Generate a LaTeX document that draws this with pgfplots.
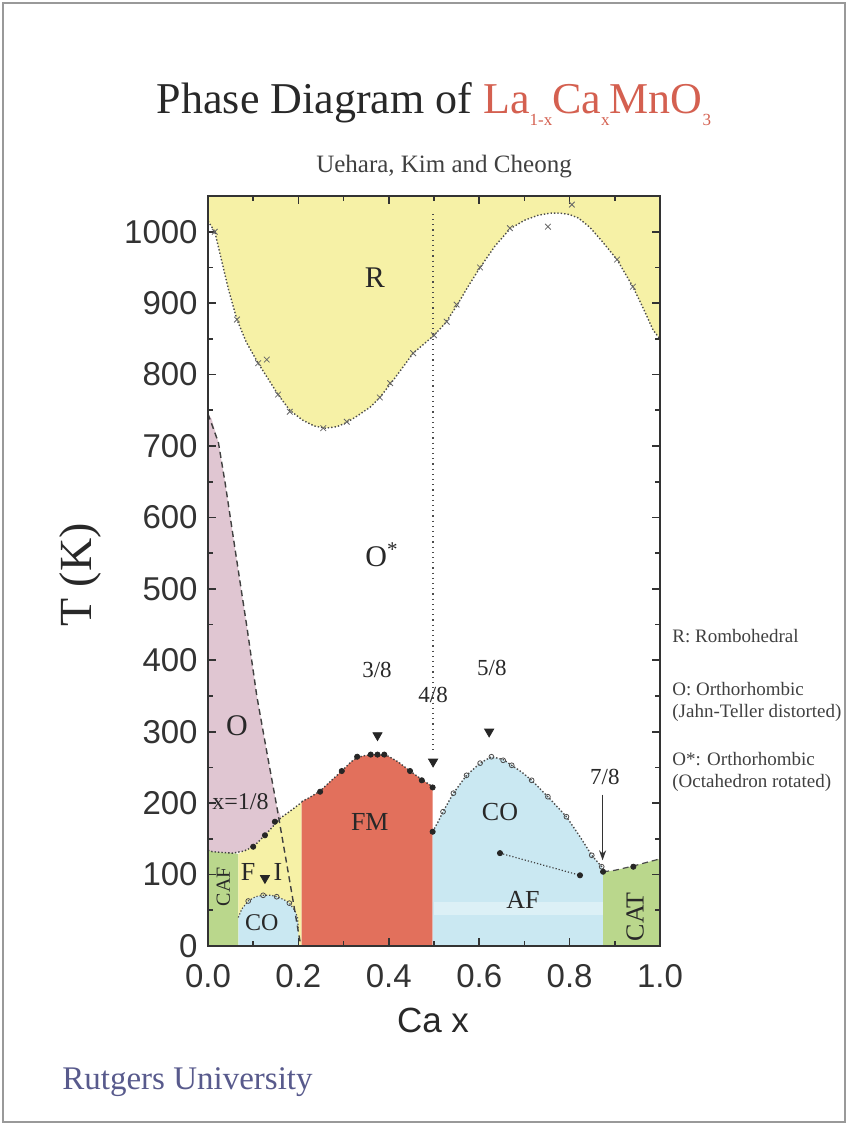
\documentclass[border=0pt]{standalone}
\usepackage{fontspec}
\setmainfont{Liberation Serif}
\setsansfont{Liberation Sans}
\usepackage{pgfplots}
\pgfplotsset{compat=1.18}
\usetikzlibrary{arrows.meta}

\definecolor{ryel}{RGB}{246,241,166}
\definecolor{opink}{RGB}{224,198,210}
\definecolor{fmred}{RGB}{226,112,92}
\definecolor{coblue}{RGB}{202,232,242}
\definecolor{cgreen}{RGB}{186,215,140}
\definecolor{titlered}{RGB}{212,96,80}
\definecolor{inkgray}{RGB}{40,40,40}
\definecolor{rutgers}{RGB}{88,90,140}

\newcommand{\sub}[1]{\raisebox{-6pt}{\fontsize{8.5}{9}\selectfont #1}}

\begin{document}
\begin{tikzpicture}
\useasboundingbox (0,0) rectangle (424pt,-562.5pt);
\draw[black!40, line width=0.6pt] (1.5pt,-1.5pt) rectangle (422.5pt,-561pt);

% title block
\node[anchor=base, inner sep=0pt, text=inkgray, font=\fontsize{22}{26}\selectfont]
  at (217pt,-56.5pt) {Phase Diagram of \textcolor{titlered}{La\sub{1-x}Ca\sub{x}MnO\sub{3}}};
\node[anchor=base, inner sep=0pt, text=black!75, font=\fontsize{12.5}{14}\selectfont]
  at (222pt,-86pt) {Uehara, Kim and Cheong};

\begin{axis}[
  at={(104pt,-473pt)}, anchor=south west,
  scale only axis, width=226pt, height=375pt,
  xmin=0, xmax=1, ymin=0, ymax=1050,
  axis on top,
  axis line style={draw=black!80, line width=1pt},
  tick align=inside,
  major tick length=4pt, minor tick length=2.5pt,
  tick style={draw=black!80, line width=0.8pt},
  xtick={0,0.2,...,1.0}, minor xtick={0.1,0.3,0.5,0.7,0.9},
  ytick={0,100,...,1000}, minor ytick={50,150,...,1050},
  xticklabel style={inner sep=1pt, yshift=-8pt, /pgf/number format/fixed, /pgf/number format/fixed zerofill, /pgf/number format/precision=1},
  yticklabel style={inner sep=1pt, xshift=-4pt},
  /pgf/number format/set thousands separator={},
  /pgf/number format/assume math mode=true,
  tick label style={font=\fontsize{16.5}{18}\sffamily, text=black!80},
  clip=true,
]
% phase regions
\addplot[draw=none, fill=ryel] coordinates {(0,1060)(0,1015)(0.015,1000)(0.03,960)(0.045,920)(0.064,877)(0.085,845)(0.111,816)(0.135,792)(0.155,772)(0.181,750)(0.21,736)(0.235,728)(0.26,725)(0.285,727)(0.307,733)(0.33,742)(0.36,755)(0.38,768)(0.40,784)(0.425,805)(0.454,830)(0.478,843)(0.50,855)(0.525,872)(0.55,896)(0.575,923)(0.60,948)(0.635,980)(0.668,1004)(0.70,1016)(0.73,1023)(0.757,1026)(0.78,1026)(0.80,1024)(0.82,1019)(0.845,1006)(0.87,988)(0.905,961)(0.94,923)(0.965,890)(0.985,862)(1.0,850)(1,1060)} -- cycle;
\addplot[draw=none, fill=opink] coordinates {(0,745)(0.008,738)(0.023,705)(0.038,648)(0.06,555)(0.086,447)(0.108,350)(0.13,272)(0.152,196)(0.162,180)(0.15,172)(0.126,155)(0.1,139)(0.08,133)(0.055,130)(0.03,131)(0.01,132)(0,134)} -- cycle;
\addplot[draw=none, fill=cgreen] coordinates {(0,0)(0.067,0)(0.067,129)(0.055,130)(0.03,131)(0.01,132)(0,134)} -- cycle;
\addplot[draw=none, fill=ryel] coordinates {(0.067,0)(0.067,129)(0.08,133)(0.1,139)(0.126,155)(0.15,172)(0.162,180)(0.18,188)(0.207,201)(0.207,0)} -- cycle;
\addplot[draw=none, fill=coblue] coordinates {(0.067,0)(0.067,40)(0.075,52)(0.089,63)(0.105,69)(0.122,71)(0.14,71)(0.152,69)(0.168,65)(0.18,60)(0.192,50)(0.198,40)(0.2,20)(0.2,0)} -- cycle;
\addplot[draw=none, fill=fmred] coordinates {(0.207,0)(0.207,202)(0.225,208)(0.248,217)(0.27,230)(0.296,245)(0.315,257)(0.33,264)(0.35,267)(0.375,268)(0.398,266)(0.42,258)(0.447,245)(0.473,233)(0.497,223)(0.497,0)} -- cycle;
\addplot[draw=none, fill=coblue] coordinates {(0.497,0)(0.497,160)(0.51,175)(0.52,188)(0.543,214)(0.572,239)(0.602,256)(0.627,265)(0.653,261)(0.672,253)(0.695,243)(0.716,232)(0.752,209)(0.793,181)(0.823,153)(0.849,127)(0.871,111)(0.874,104)(0.874,0)} -- cycle;
\addplot[draw=none, fill=cgreen] coordinates {(0.874,0)(0.874,104)(0.90,106)(0.941,112)(0.97,117)(1.0,122)(1,0)} -- cycle;
\addplot[draw=none, fill=white, fill opacity=0.35] coordinates {(0.5,44)(0.874,44)(0.874,62)(0.5,62)} -- cycle;

% phase boundaries
\addplot[densely dotted, black!70, line width=0.7pt] coordinates {(0,1015)(0.015,1000)(0.03,960)(0.045,920)(0.064,877)(0.085,845)(0.111,816)(0.135,792)(0.155,772)(0.181,750)(0.21,736)(0.235,728)(0.26,725)(0.285,727)(0.307,733)(0.33,742)(0.36,755)(0.38,768)(0.40,784)(0.425,805)(0.454,830)(0.478,843)(0.50,855)(0.525,872)(0.55,896)(0.575,923)(0.60,948)(0.635,980)(0.668,1004)(0.70,1016)(0.73,1023)(0.757,1026)(0.78,1026)(0.80,1024)(0.82,1019)(0.845,1006)(0.87,988)(0.905,961)(0.94,923)(0.965,890)(0.985,862)(1.0,850)};
\addplot[densely dashed, black!75, line width=0.7pt] coordinates {(0,745)(0.023,705)(0.038,648)(0.06,555)(0.086,447)(0.108,350)(0.13,272)(0.152,196)(0.178,101)(0.204,5)};
\addplot[densely dotted, black!75, line width=0.7pt] coordinates {(0,134)(0.01,132)(0.03,131)(0.055,130)(0.08,133)(0.1,139)(0.126,155)(0.15,172)(0.162,180)(0.18,188)(0.207,201)};
\addplot[densely dotted, black!75, line width=0.7pt] coordinates {(0.207,202)(0.225,208)(0.248,217)(0.27,230)(0.296,245)(0.315,257)(0.33,264)(0.35,267)(0.375,268)(0.398,266)(0.42,258)(0.447,245)(0.473,233)(0.497,223)};
\addplot[densely dotted, black!70, line width=0.7pt] coordinates {(0.497,160)(0.51,175)(0.52,188)(0.543,214)(0.572,239)(0.602,256)(0.627,265)(0.653,261)(0.672,253)(0.695,243)(0.716,232)(0.752,209)(0.793,181)(0.823,153)(0.849,127)(0.871,111)(0.874,104)};
\addplot[densely dotted, black!70, line width=0.6pt] coordinates {(0.067,40)(0.075,52)(0.089,63)(0.105,69)(0.122,71)(0.14,71)(0.152,69)(0.168,65)(0.18,60)(0.192,50)(0.198,40)(0.2,20)};
\addplot[densely dashed, black!70, line width=0.6pt] coordinates {(0.874,104)(0.90,106)(0.941,112)(0.97,117)(1.0,122)};
\addplot[dotted, black!70, line width=0.6pt] coordinates {(0.498,1025)(0.498,275)};
\addplot[densely dotted, black!75, line width=0.6pt] coordinates {(0.646,130)(0.823,99)};

% measured points
\addplot[only marks, mark=*, mark size=1.3pt, black!85] coordinates {(0.248,216)(0.296,245)(0.33,265)(0.36,268)(0.375,268)(0.39,268)(0.447,245)(0.473,232)(0.497,222)(0.497,160)(0.1,139)(0.126,155)(0.148,174)(0.646,130)(0.823,99)(0.874,104)(0.941,111)};
\addplot[only marks, mark=o, mark size=1.2pt, black!70] coordinates {(0.52,188)(0.543,214)(0.572,239)(0.602,256)(0.627,265)(0.653,260)(0.672,253)(0.716,232)(0.752,209)(0.793,181)(0.849,127)(0.871,111)(0.089,63)(0.122,71)(0.152,69)(0.18,60)};
\addplot[only marks, mark=x, mark size=2pt, black!60] coordinates {(0.015,1000)(0.064,877)(0.111,816)(0.13,821)(0.155,772)(0.181,748)(0.255,725)(0.307,734)(0.38,768)(0.403,788)(0.454,830)(0.50,855)(0.528,874)(0.55,898)(0.602,950)(0.668,1005)(0.752,1007)(0.805,1038)(0.905,961)(0.94,923)};
\addplot[only marks, mark=triangle*, mark size=2.6pt, mark options={rotate=180}, black!85] coordinates {(0.375,295)(0.498,258)(0.622,300)(0.126,95)};

% phase names
\begin{scope}[every node/.style={text=inkgray, inner sep=0pt}]
\node[font=\fontsize{15}{15}\selectfont] at (axis cs:0.369,936) {R};
\node[font=\fontsize{15}{15}\selectfont] at (axis cs:0.385,548) {O\textsuperscript{*}};
\node[font=\fontsize{15}{15}\selectfont] at (axis cs:0.064,308) {O};
\node[font=\fontsize{12}{12}\selectfont] at (axis cs:0.072,202) {x=1/8};
\node[font=\fontsize{13}{13}\selectfont] at (axis cs:0.358,174) {FM};
\node[font=\fontsize{13}{13}\selectfont] at (axis cs:0.646,188) {CO};
\node[font=\fontsize{13}{13}\selectfont] at (axis cs:0.697,64) {AF};
\node[font=\fontsize{13}{13}\selectfont, rotate=90] at (axis cs:0.945,41) {CAT};
\node[font=\fontsize{10}{10}\selectfont, rotate=90] at (axis cs:0.034,83) {CAF};
\node[font=\fontsize{13}{13}\selectfont] at (axis cs:0.089,104) {F};
\node[font=\fontsize{13}{13}\selectfont] at (axis cs:0.155,104) {I};
\node[font=\fontsize{12}{12}\selectfont] at (axis cs:0.119,32) {CO};
\node[font=\fontsize{11.5}{12}\selectfont] at (axis cs:0.374,387) {3/8};
\node[font=\fontsize{11.5}{12}\selectfont] at (axis cs:0.498,352) {4/8};
\node[font=\fontsize{11.5}{12}\selectfont] at (axis cs:0.628,389) {5/8};
\node[font=\fontsize{11.5}{12}\selectfont] at (axis cs:0.878,237) {7/8};
\end{scope}
\draw[-{Stealth[length=5pt,width=3.5pt]}, black!80, line width=0.7pt] (axis cs:0.873,212) -- (axis cs:0.873,120);
\end{axis}

% axis titles
\node[rotate=90, text=inkgray, font=\fontsize{23}{25}\selectfont] at (40pt,-287.5pt) {T (K)};
\node[text=inkgray, font=\fontsize{17.5}{19}\sffamily] at (216.5pt,-510pt) {Ca x};
\node[anchor=west, inner sep=0pt, text=rutgers, font=\fontsize{16.5}{18}\selectfont] at (31pt,-541pt) {Rutgers University};

% key to the structures
\begin{scope}[every node/.style={anchor=base west, inner sep=0pt, text=black!75, font=\fontsize{9.5}{11}\selectfont}]
\node at (336pt,-321pt) {R: Rombohedral};
\node at (336pt,-347.5pt) {O: Orthorhombic};
\node at (336pt,-358.5pt) {(Jahn-Teller distorted)};
\node at (336pt,-382.5pt) {O*: Orthorhombic};
\node at (336pt,-393.5pt) {(Octahedron rotated)};
\end{scope}
\end{tikzpicture}
\end{document}
